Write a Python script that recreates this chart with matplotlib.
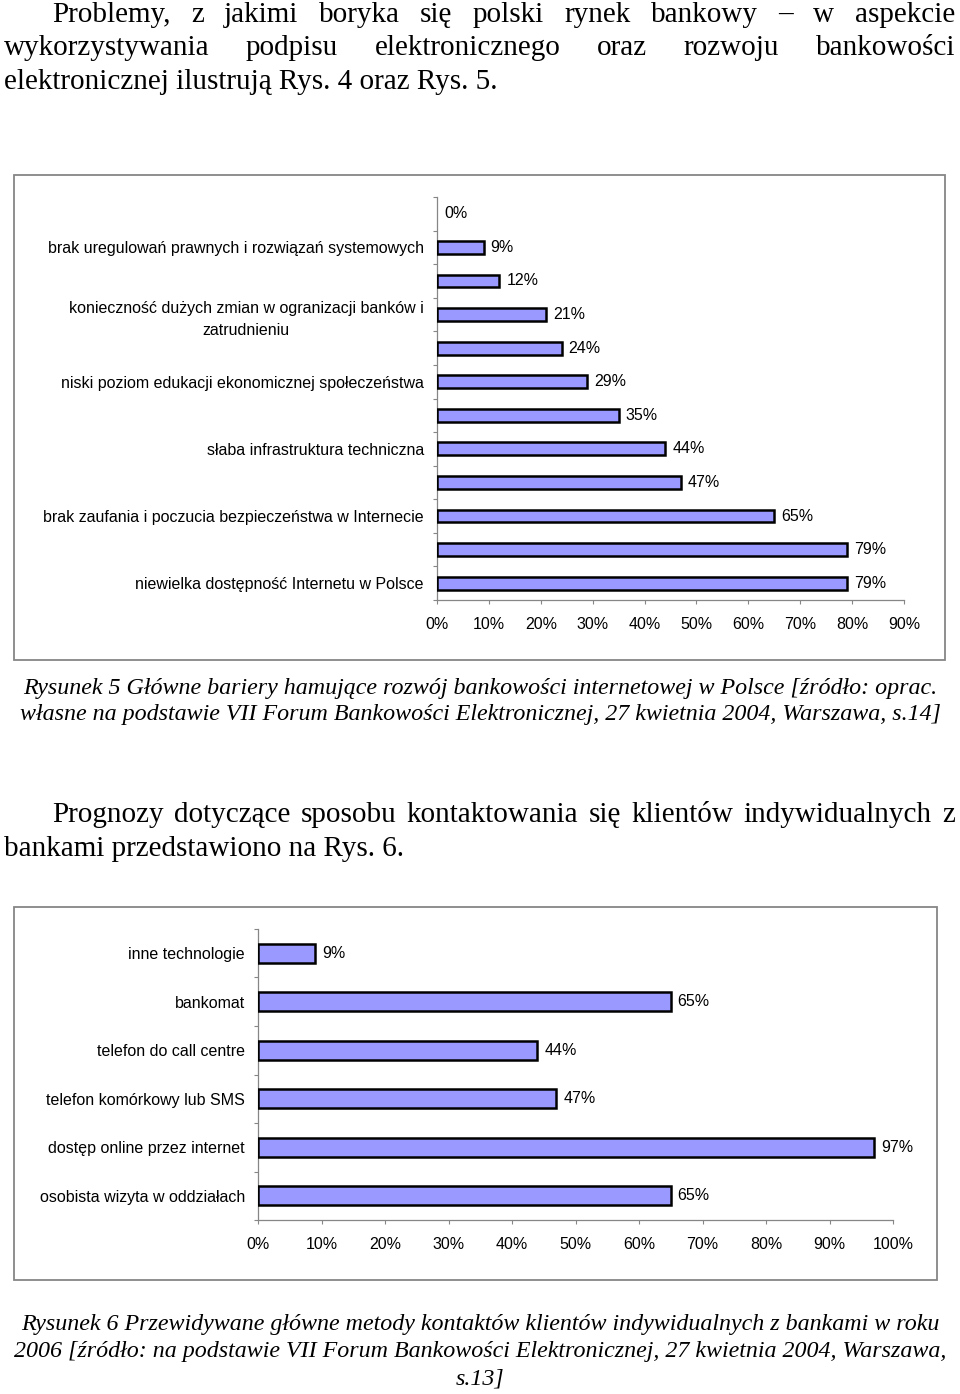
import matplotlib
matplotlib.use('Agg')
import matplotlib.pyplot as plt
from matplotlib.patches import Rectangle
import numpy as np

W, H = 960, 1394

# Rys. 5 - bariery (12 pozycji, podpisana co druga)
bar1_values = [0, 9, 12, 21, 24, 29, 35, 44, 47, 65, 79, 79]
bar1_labels = ['', 'brak uregulowań prawnych i rozwiązań systemowych', '',
               'konieczność dużych zmian w ogranizacji banków i\nzatrudnieniu', '',
               'niski poziom edukacji ekonomicznej społeczeństwa', '',
               'słaba infrastruktura techniczna', '',
               'brak zaufania i poczucia bezpieczeństwa w Internecie', '',
               'niewielka dostępność Internetu w Polsce']
bar1_ticks = [0, 10, 20, 30, 40, 50, 60, 70, 80, 90]

# Rys. 6 - metody kontaktu
bar2_labels = ['inne technologie', 'bankomat', 'telefon do call centre',
               'telefon komórkowy lub SMS', 'dostęp online przez internet',
               'osobista wizyta w oddziałach']
bar2_values = [9, 65, 44, 47, 97, 65]
bar2_ticks = [0, 10, 20, 30, 40, 50, 60, 70, 80, 90, 100]

para1 = ['Problemy, z jakimi boryka się polski rynek bankowy – w aspekcie',
         'wykorzystywania podpisu elektronicznego oraz rozwoju bankowości',
         'elektronicznej ilustrują Rys. 4 oraz Rys. 5.']
cap1 = ['Rysunek 5 Główne bariery hamujące rozwój bankowości internetowej w Polsce [źródło: oprac.',
        'własne na podstawie VII Forum Bankowości Elektronicznej, 27 kwietnia 2004, Warszawa, s.14]']
para2 = ['Prognozy dotyczące sposobu kontaktowania się klientów indywidualnych z',
         'bankami przedstawiono na Rys. 6.']
cap2 = ['Rysunek 6 Przewidywane główne metody kontaktów klientów indywidualnych z bankami w roku',
        '2006 [źródło: na podstawie VII Forum Bankowości Elektronicznej, 27 kwietnia 2004, Warszawa,',
        's.13]']

SERIF = 'Liberation Serif'
SANS = 'Liberation Sans'
BODY = 21.0
CAP = 17.3
CH = 11.5
BAR = '#9999ff'
GRAY = '#868686'

fig = plt.figure(figsize=(W / 100, H / 100), dpi=100)
fig.patch.set_facecolor('white')


def pos(x, y):
    return x / W, 1 - y / H


def justify(line, x0, x1, y, size, style='normal'):
    r = fig.canvas.get_renderer()
    words = line.split()
    objs = [fig.text(0, 0, w, fontsize=size, family=SERIF, style=style, va='baseline')
            for w in words]
    widths = [t.get_window_extent(r).width for t in objs]
    gap = (x1 - x0 - sum(widths)) / (len(words) - 1)
    x = x0
    for t, w in zip(objs, widths):
        t.set_position(pos(x, y))
        x += w + gap


def plain(line, x, y, size, ha='left', style='normal'):
    fig.text(*pos(x, y), line, fontsize=size, family=SERIF, style=style, ha=ha, va='baseline')


def frame(x0, y0, x1, y1):
    fig.patches.append(Rectangle(pos(x0, y1), (x1 - x0) / W, (y1 - y0) / H,
                                 transform=fig.transFigure, fill=False, ec=GRAY, lw=1.3))


def barchart(values, labels, ticks, l, r, t, b, bh):
    ax = fig.add_axes([l / W, 1 - b / H, (r - l) / W, (b - t) / H])
    n = len(values)
    y = np.arange(n)
    # zero-length bars get no outline
    lws = [1.8 if v else 0 for v in values]
    ax.barh(y, values, height=bh, color=BAR, edgecolor='black', linewidth=lws, zorder=3)
    for i, v in enumerate(values):
        ax.annotate(f'{v}%', xy=(v, i), xytext=(7, 0), textcoords='offset pixels',
                    va='center', ha='left', fontsize=CH, family=SANS)
    ax.set_xlim(ticks[0], ticks[-1])
    ax.set_ylim(n - 0.5, -0.5)
    ax.set_xticks(ticks)
    ax.set_xticklabels([f'{v}%' for v in ticks], fontsize=CH, family=SANS)
    ax.set_yticks(np.arange(n + 1) - 0.5)
    ax.set_yticklabels([])
    ax.set_yticks(y, minor=True)
    ax.set_yticklabels(labels, minor=True, fontsize=CH, family=SANS)
    for lab in ax.get_yticklabels(minor=True):
        lab.set_multialignment('center')
        lab.set_linespacing(1.55)
    ax.tick_params(axis='y', which='minor', length=0, pad=9.5)
    ax.tick_params(axis='y', which='major', length=3, color=GRAY, width=0.8)
    ax.tick_params(axis='x', length=3, color=GRAY, width=0.8, pad=9)
    for s in ['top', 'right']:
        ax.spines[s].set_visible(False)
    for s in ['left', 'bottom']:
        ax.spines[s].set_color(GRAY)
        ax.spines[s].set_linewidth(0.9)
    ax.set_facecolor('none')
    return ax


# tekst nad wykresem 1
justify(para1[0], 52, 955, 22, BODY)
justify(para1[1], 4, 955, 55, BODY)
plain(para1[2], 4, 89, BODY)

frame(14, 175, 945, 660)
barchart(bar1_values, bar1_labels, bar1_ticks, 437, 904, 197, 600, 0.38)

plain(cap1[0], 480, 694, CAP, ha='center', style='italic')
plain(cap1[1], 480, 720, CAP, ha='center', style='italic')

justify(para2[0], 52, 955, 822, BODY)
plain(para2[1], 4, 856, BODY)

frame(14, 907, 937, 1280)
barchart(bar2_values, bar2_labels, bar2_ticks, 258, 893, 929, 1220, 0.40)

plain(cap2[0], 480, 1330, CAP, ha='center', style='italic')
plain(cap2[1], 480, 1357, CAP, ha='center', style='italic')
plain(cap2[2], 480, 1385, CAP, ha='center', style='italic')

fig.savefig('out.png', dpi=100)
